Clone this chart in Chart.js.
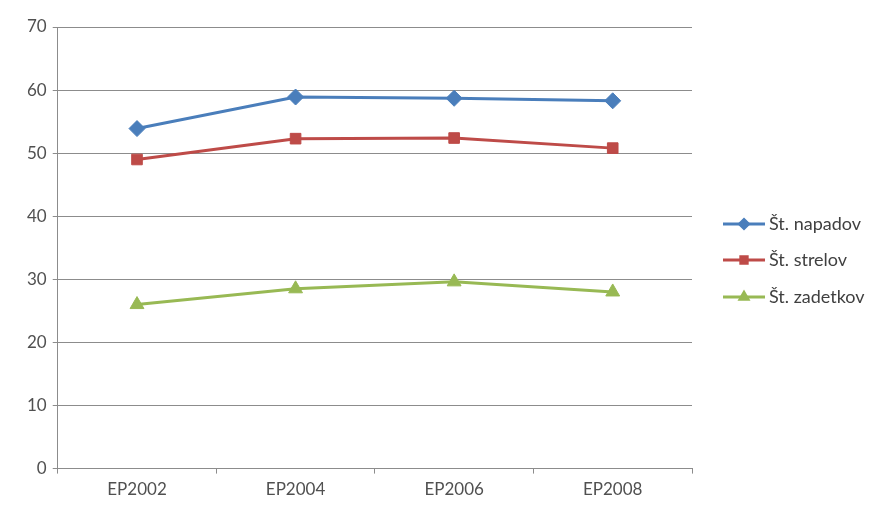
<!DOCTYPE html>
<html>
<head>
<meta charset="utf-8">
<script src="https://cdn.jsdelivr.net/npm/chart.js@4/dist/chart.umd.min.js"></script>
<style>
  html, body { margin: 0; padding: 0; background: #ffffff; }
  #wrap { width: 873px; height: 506px; position: relative; }
</style>
</head>
<body>
<div id="wrap"><canvas id="c" width="873" height="506"></canvas></div>
<script>
// Categories and series
const categories = ['EP2002', 'EP2004', 'EP2006', 'EP2008'];
const napadov = [53.9, 58.9, 58.7, 58.3];
const strelov = [49.0, 52.3, 52.4, 50.8];
const zadetkov = [26.0, 28.5, 29.6, 28.0];
const seriesNames = ['Št. napadov', 'Št. strelov', 'Št. zadetkov'];
const yTicks = [0, 10, 20, 30, 40, 50, 60, 70];

const FONT = 'Lato, "Open Sans", sans-serif';
const TEXT = '#505050';
const GRID = '#8c8c8c';

const colors = ['#4a7ebb', '#be4b48', '#98b954'];
const styles = ['rectRot', 'rect', 'triangle'];
const radii = [8, 7.5, 8];

// Legend drawn at the right: line segment with a small marker, then the label
const sideLegend = {
  id: 'sideLegend',
  afterDraw(chart) {
    const ctx = chart.ctx;
    const ca = chart.chartArea;
    const x0 = ca.right + 31, x1 = ca.right + 73;
    const rows = [ca.top + 197, ca.top + 233, ca.top + 270];
    ctx.save();
    chart.data.datasets.forEach((ds, i) => {
      const y = rows[i];
      ctx.strokeStyle = ds.borderColor;
      ctx.lineWidth = 3;
      ctx.beginPath();
      ctx.moveTo(x0, y);
      ctx.lineTo(x1, y);
      ctx.stroke();
      ctx.fillStyle = ds.borderColor;
      ctx.strokeStyle = ds.borderColor;
      Chart.helpers.drawPoint(ctx, {
        pointStyle: ds.pointStyle, radius: 4.5, borderWidth: 1
      }, (x0 + x1) / 2, y);
      ctx.fillStyle = '#404040';
      ctx.font = '18px ' + FONT;
      ctx.textBaseline = 'middle';
      ctx.textAlign = 'left';
      ctx.fillText(ds.label, x1 + 4, y);
    });
    ctx.restore();
  }
};

const seriesData = [napadov, strelov, zadetkov];

new Chart(document.getElementById('c'), {
  type: 'line',
  data: {
    labels: categories,
    datasets: seriesData.map((d, i) => ({
      label: seriesNames[i],
      data: d,
      borderColor: colors[i],
      backgroundColor: colors[i],
      borderWidth: 3,
      pointStyle: styles[i],
      pointRadius: radii[i],
      pointHoverRadius: radii[i],
      pointBorderWidth: 1,
      tension: 0
    }))
  },
  options: {
    responsive: false,
    animation: false,
    layout: { padding: { left: 21, right: 181, top: 27, bottom: 0 } },
    plugins: {
      legend: { display: false },
      tooltip: { enabled: false }
    },
    scales: {
      x: {
        offset: true,
        grid: {
          offset: true,
          drawOnChartArea: false,
          drawTicks: true,
          tickLength: 5,
          color: GRID
        },
        border: { color: GRID, width: 1 },
        ticks: {
          color: TEXT,
          font: { family: FONT, size: 17 },
          padding: 6
        }
      },
      y: {
        min: 0,
        max: 70,
        afterBuildTicks(axis) {
          axis.ticks = yTicks.map(v => ({ value: v }));
        },
        grid: {
          color: GRID,
          lineWidth: 1,
          drawTicks: true,
          tickLength: 5
        },
        border: { color: GRID, width: 1 },
        ticks: {
          color: TEXT,
          font: { family: FONT, size: 17 },
          padding: 6
        }
      }
    }
  },
  plugins: [sideLegend]
});
</script>
</body>
</html>
